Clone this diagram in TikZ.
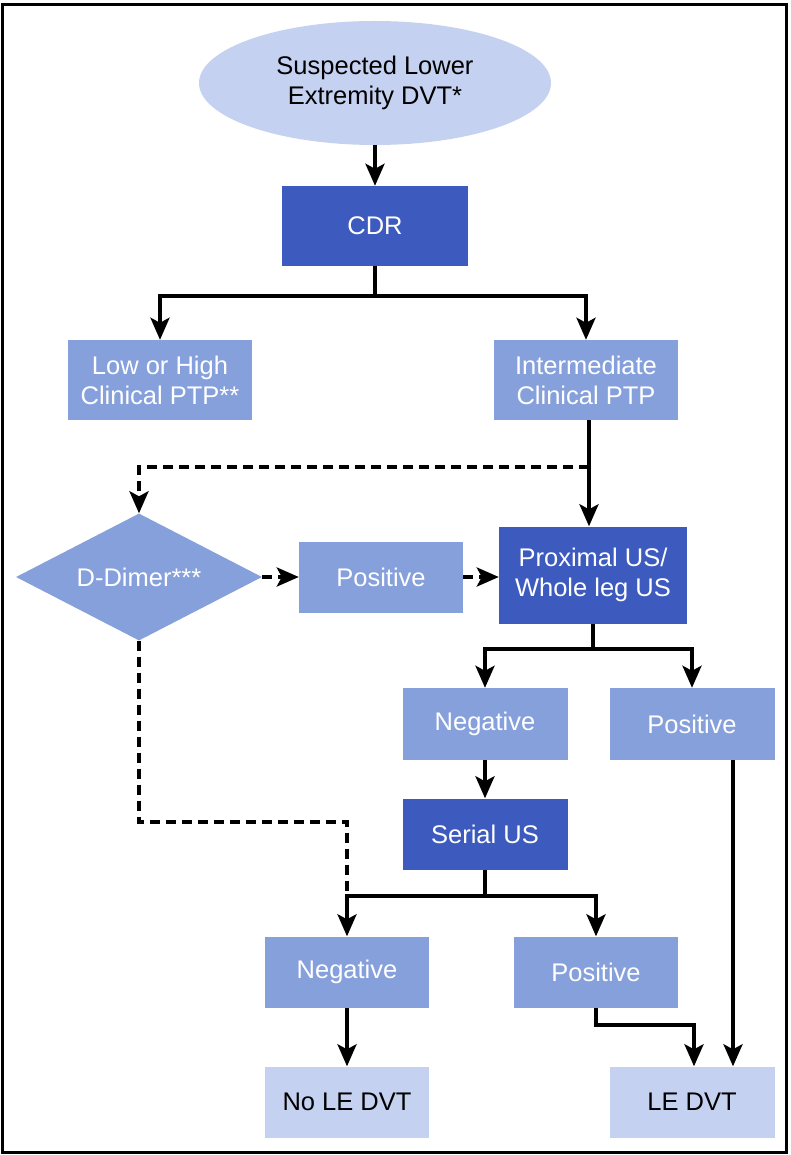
\documentclass[tikz,border=0pt]{standalone}
\usepackage{fontspec}
\setmainfont{Liberation Sans}
\usetikzlibrary{arrows.meta,shapes.geometric}
\definecolor{dk}{HTML}{3D5BBE}
\definecolor{md}{HTML}{86A0DC}
\definecolor{lt}{HTML}{C5D1F0}
\tikzset{
 box/.style={rectangle, inner sep=0pt, align=center, font=\fontsize{25.5}{30}\selectfont},
 darkbox/.style={box, fill=dk, text=white},
 medbox/.style={box, fill=md, text=white},
 lightbox/.style={box, fill=lt, text=black},
 plainline/.style={line width=3.8pt},
 conn/.style={plainline, -{Stealth[length=22pt,width=19pt,inset=5pt]}},
 dashconn/.style={conn, dash pattern=on 10pt off 6pt},
 dashline/.style={plainline, dash pattern=on 10pt off 6pt},
}
\begin{document}
\begin{tikzpicture}[x=1pt,y=1pt]
\useasboundingbox (0,0) rectangle (791,-1155);
\draw[line width=3pt] (2,-5) rectangle (786,-1152);

\node[lightbox, ellipse, minimum width=352pt, minimum height=124pt] (start) at (375,-83) {Suspected Lower\\Extremity DVT*};
\node[darkbox, minimum width=186pt, minimum height=80pt] (cdr) at (375,-226) {CDR};
\node[medbox, minimum width=184pt, minimum height=80pt] (low) at (160,-380) {Low or High\\Clinical PTP**};
\node[medbox, minimum width=184pt, minimum height=80pt] (inter) at (586,-380) {Intermediate\\Clinical PTP};
\node[medbox, diamond, aspect=1.94, minimum width=246pt, minimum height=127pt] (dimer) at (139,-577) {D-Dimer***};
\node[medbox, minimum width=164pt, minimum height=71pt] (pos0) at (381,-577) {Positive};
\node[darkbox, minimum width=188pt, minimum height=97pt] (prox) at (593,-575) {Proximal US/\\Whole leg US};
\node[medbox, minimum width=165pt, minimum height=72pt] (neg1) at (485,-724) {Negative};
\node[medbox, minimum width=165pt, minimum height=72pt] (pos1) at (692,-724) {Positive};
\node[darkbox, minimum width=165pt, minimum height=71pt] (serial) at (485,-834) {Serial US};
\node[medbox, minimum width=164pt, minimum height=71pt] (neg2) at (347,-972) {Negative};
\node[medbox, minimum width=164pt, minimum height=71pt] (pos2) at (596,-972) {Positive};
\node[lightbox, minimum width=164pt, minimum height=71pt] (nole) at (347,-1102) {No LE DVT};
\node[lightbox, minimum width=165pt, minimum height=71pt] (le) at (692,-1102) {LE DVT};

\coordinate (s1) at (375,-296);
\coordinate (j1) at (589,-467);
\coordinate (s2) at (593,-649);
\coordinate (s3) at (485,-896);
\coordinate (dc) at (347,-822);
\coordinate (j4) at (694,-1025);
\coordinate (j5) at (733,-760);

\draw[conn] (start.south) -- (cdr.north);
\draw[plainline] (cdr.south) -- (s1);
\draw[conn] (s1) -| (low.north);
\draw[conn] (s1) -| (inter.north);
\draw[conn] (inter.south -| j1) -- (prox.north -| j1);
\draw[dashconn] (j1) -| (dimer.north);
\draw[dashconn] (dimer.east) -- (pos0.west);
\draw[dashconn] (pos0.east) -- (pos0.east -| prox.west);
\draw[plainline] (prox.south) -- (s2);
\draw[conn] (s2) -| (neg1.north);
\draw[conn] (s2) -| (pos1.north);
\draw[conn] (neg1.south) -- (serial.north);
\draw[plainline] (serial.south) -- (s3);
\draw[conn] (s3) -| (neg2.north);
\draw[conn] (s3) -| (pos2.north);
\draw[dashline] (dimer.south) |- (dc) -- (dc |- s3);
\draw[conn] (neg2.south) -- (nole.north);
\draw[conn] (pos2.south) |- (j4) -- (j4 |- le.north);
\draw[conn] (j5) -- (j5 |- le.north);
\end{tikzpicture}
\end{document}
